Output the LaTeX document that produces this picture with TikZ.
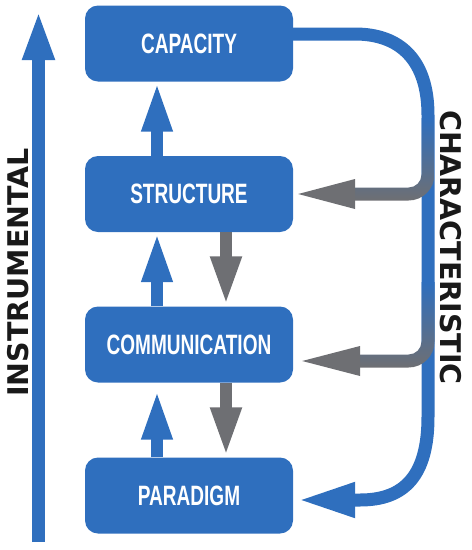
\documentclass[tikz,border=0pt]{standalone}
\usepackage{fontspec}
\usetikzlibrary{arrows.meta,calc}
\newfontfamily\boxfont[FakeStretch=0.68]{Liberation Sans}
\newfontfamily\sidefont{DejaVu Sans}
\definecolor{cblue}{RGB}{47,111,190}
\definecolor{cgrey}{RGB}{110,111,115}
\definecolor{ctext}{RGB}{25,25,25}
\tikzset{
  box/.style={fill=cblue, rounded corners=13pt, minimum width=208pt, minimum height=76pt,
    inner sep=0pt, text=white, font=\boxfont\bfseries\fontsize{28}{28}\selectfont},
  uparr/.style={cblue, line width=12pt, -{Triangle[length=50pt,width=28pt]}},
  dnarr/.style={cgrey, line width=12.5pt, -{Triangle[length=50pt,width=28pt]}},
  trunk/.style={cblue, line width=13pt},
  sidelabel/.style={font=\sidefont\bfseries\fontsize{28.5}{28.5}\selectfont, text=ctext,
    anchor=base, inner sep=0pt},
  branchshade/.style={top color=cblue, bottom color=cgrey},
  branchhead/.style={fill=cgrey}
}
\begin{document}
\begin{tikzpicture}[x=1pt,y=-1pt]
\useasboundingbox (0,0) rectangle (472,550);

% boxes
\node[box] (cap) at (189,43.5) {CAPACITY};
\node[box] (str) at (189,194) {STRUCTURE};
\node[box] (com) at (189,344.5) {COMMUNICATION};
\node[box] (par) at (189,495.5) {PARADIGM};

% columns of the inner arrows
\coordinate (ux) at (157,0);
\coordinate (dx) at (226,0);

\draw[uparr] (str.north -| ux) -- (cap.south -| ux);
\draw[uparr] (com.north -| ux) -- (str.south -| ux);
\draw[uparr] (par.north -| ux) -- ($(com.south -| ux)+(0,7)$);
\draw[dnarr] (str.south -| dx) -- (com.north -| dx);
\draw[dnarr] (com.south -| dx) -- (par.north -| dx);

% instrumental arrow
\coordinate (ib) at (38.5,542);
\coordinate (it) at (38.5,10);
\draw[cblue, line width=13pt, -{Triangle[length=50pt,width=29pt]}] (ib) -- (it);
\node[sidelabel, rotate=90] (ins) at (28,272.5) {INSTRUMENTAL};

% characteristic trunk
\coordinate (ts) at ($(cap.east)+(0,-9.5)$);
\coordinate (te) at ($(par.east)+(4,4.5)$);
\draw[trunk, -{Triangle[length=58pt,width=32pt]}] (ts) -- (355,34)
  .. controls (400,34) and (428,60) .. (428,115) -- (428,417)
  .. controls (428,475) and (405,500) .. (360,500) -- (te);
\node[sidelabel, rotate=-90] (chr) at (440,247.5) {CHARACTERISTIC};

% branch to structure
\shade[branchshade] (421.5,118) -- (434.5,118) -- (434.5,174.5)
  .. controls (434.5,188.9) and (422.9,200.5) .. (408.5,200.5)
  -- (355,200.5) -- (355,187.5) -- (408.5,187.5)
  .. controls (415.7,187.5) and (421.5,181.7) .. (421.5,174.5) -- cycle;
\coordinate (h1) at ($(str.east)+(5,0)$);
\fill[branchhead] (355,179) -- (h1) -- (355,209) -- cycle;

% branch to communication
\shade[branchshade] (421.5,282) -- (434.5,282) -- (434.5,341.5)
  .. controls (434.5,355.9) and (422.9,367.5) .. (408.5,367.5)
  -- (360,367.5) -- (360,354.5) -- (408.5,354.5)
  .. controls (415.7,354.5) and (421.5,348.7) .. (421.5,341.5) -- cycle;
\coordinate (h2) at ($(com.east)+(9,16.5)$);
\fill[branchhead] (360,346) -- (h2) -- (360,376) -- cycle;
\end{tikzpicture}
\end{document}
